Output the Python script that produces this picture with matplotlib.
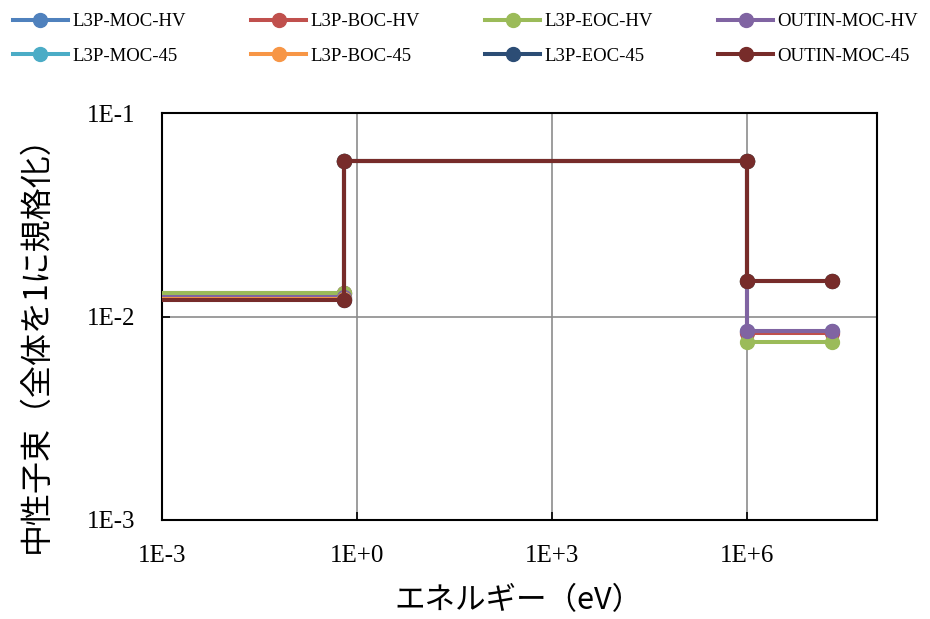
import numpy as np
from matplotlib import pyplot as plt

# energy group boundaries (eV): thermal / epithermal / fast
energy = [1e-5, 0.625, 0.625, 1e6, 1e6, 2e7]

names = ['L3P-MOC-HV', 'L3P-BOC-HV', 'L3P-EOC-HV', 'OUTIN-MOC-HV',
         'L3P-MOC-45', 'L3P-BOC-45', 'L3P-EOC-45', 'OUTIN-MOC-45']
thermal = [0.0130, 0.0130, 0.0130, 0.0125, 0.0122, 0.0122, 0.0121, 0.0120]
epithermal = [0.058, 0.058, 0.058, 0.058, 0.058, 0.058, 0.058, 0.058]
fast = [0.0085, 0.0083, 0.0075, 0.0085, 0.0149, 0.0149, 0.0149, 0.0149]
colors = ['#4F81BD', '#C0504D', '#9BBB59', '#8064A2',
          '#4BACC6', '#F79646', '#2C4D75', '#772C2A']

x_ticks = [1e-3, 1e0, 1e3, 1e6]
x_ticklabels = ['1E-3', '1E+0', '1E+3', '1E+6']
y_ticks = [1e-3, 1e-2, 1e-1]
y_ticklabels = ['1E-3', '1E-2', '1E-1']

jp = ['Noto Sans CJK JP', 'DejaVu Sans']
serif = 'Liberation Serif'

fig = plt.figure(figsize=(9.3, 6.19), dpi=100)
ax = fig.add_axes([162 / 930, 1 - 520 / 619, 715 / 930, 407 / 619])

lines = []
for i in range(len(names)):
    y = [thermal[i], thermal[i], epithermal[i], epithermal[i], fast[i], fast[i]]
    l, = ax.plot(energy, y, color=colors[i], lw=2.9, marker='o', ms=10,
                 label=names[i], zorder=3)
    lines.append(l)

ax.set_xscale('log')
ax.set_yscale('log')
ax.set_xlim(1e-3, 1e8)
ax.set_ylim(1e-3, 1e-1)
ax.set_xticks(x_ticks)
ax.set_xticklabels(x_ticklabels, fontfamily=serif, fontsize=18)
ax.set_yticks(y_ticks)
ax.set_yticklabels(y_ticklabels, fontfamily=serif, fontsize=18)
ax.minorticks_off()
ax.tick_params(direction='in', length=6, width=1.2, color='black')
ax.tick_params(axis='x', pad=18)
ax.tick_params(axis='y', pad=19)
ax.grid(True, color='#8C8C8C', lw=1.2, zorder=1)
for s in ax.spines.values():
    s.set_linewidth(1.5)
    s.set_color('black')

ax.set_xlabel('エネルギー（eV）', family=jp, fontsize=22, va='center')
ax.xaxis.set_label_coords(0.498, -0.198)
ax.set_ylabel('中性子束（全体を1に規格化）', family=jp, fontsize=23, va='center')
ax.yaxis.set_label_coords(-0.176, 0.452)

# legend is filled column by column, so reorder to read row by row
order = [0, 4, 1, 5, 2, 6, 3, 7]
fig.legend([lines[k] for k in order], [names[k] for k in order],
           loc='upper left', bbox_to_anchor=(0.0, 1.0), ncol=4, frameon=False,
           prop={'family': serif, 'size': 13.5}, handlelength=2.9,
           handletextpad=0.25, columnspacing=3.5, labelspacing=0.92,
           borderaxespad=0.3)

plt.savefig('out.png', dpi=100)
